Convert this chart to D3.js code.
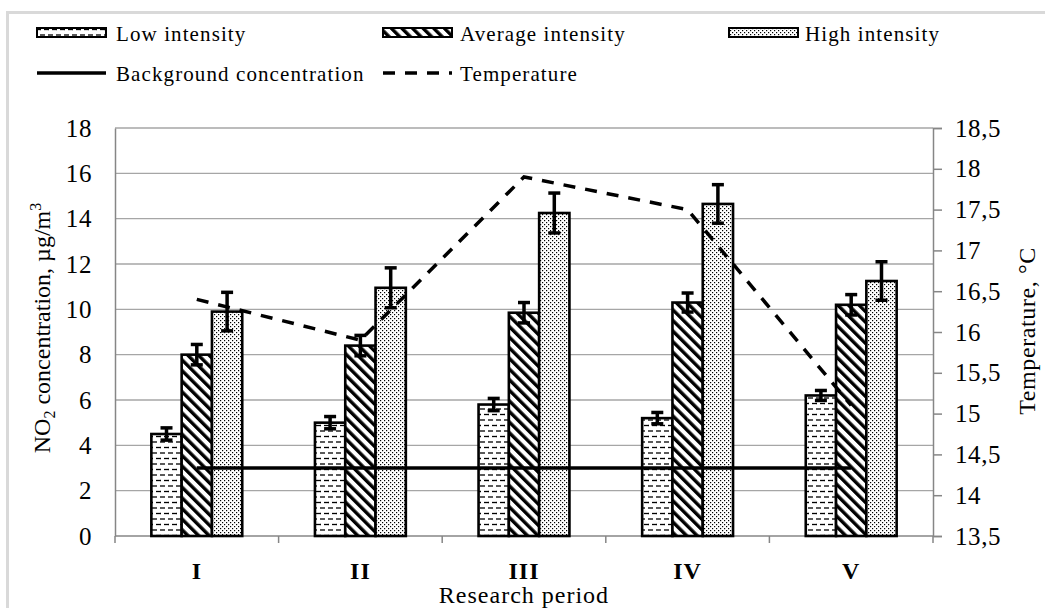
<!DOCTYPE html>
<html>
<head>
<meta charset="utf-8">
<script src="https://cdn.jsdelivr.net/npm/d3@7"></script>
<style>
  html, body { margin: 0; padding: 0; background: #fff; }
  svg { display: block; font-family: "Liberation Serif", "DejaVu Serif", serif; }
</style>
</head>
<body>
<svg id="chart" width="1045" height="608"></svg>
<script>
// ---- data ----
const periods = ["I", "II", "III", "IV", "V"];
const seriesNames = ["Low intensity", "Average intensity", "High intensity"];
const lowValues  = [4.5, 5.0, 5.8, 5.2, 6.2];
const avgValues  = [8.0, 8.4, 9.85, 10.3, 10.2];
const highValues = [9.9, 10.95, 14.25, 14.65, 11.25];
const lowErr  = [0.27, 0.27, 0.27, 0.25, 0.22];
const avgErr  = [0.45, 0.45, 0.45, 0.42, 0.45];
const highErr = [0.85, 0.88, 0.88, 0.85, 0.85];
const backgroundConc = [3, 3, 3, 3, 3];
const temperature = [16.4, 15.9, 17.9, 17.5, 15.1];
const leftTicks  = [0, 2, 4, 6, 8, 10, 12, 14, 16, 18];
const rightTicks = [13.5, 14, 14.5, 15, 15.5, 16, 16.5, 17, 17.5, 18, 18.5];

// ---- layout ----
const svg = d3.select("#chart");
const L = 115, R = 933, T = 128, B = 536;

// outer chart border
svg.append("rect").attr("x", 7.5).attr("y", 12.5).attr("width", 1100).attr("height", 700)
  .attr("fill", "none").attr("stroke", "#d9d9d9").attr("stroke-width", 3);

// patterns
const defs = svg.append("defs");
const pLow = defs.append("pattern").attr("id", "pLow").attr("patternUnits", "userSpaceOnUse")
  .attr("width", 8).attr("height", 11);
pLow.append("rect").attr("width", 8).attr("height", 11).attr("fill", "#fff");
pLow.append("line").attr("x1", 0).attr("x2", 5).attr("y1", 2).attr("y2", 2).attr("stroke", "#000").attr("stroke-width", 1.3);
pLow.append("line").attr("x1", 4).attr("x2", 9).attr("y1", 7.5).attr("y2", 7.5).attr("stroke", "#000").attr("stroke-width", 1.3);
pLow.append("line").attr("x1", -4).attr("x2", 1).attr("y1", 7.5).attr("y2", 7.5).attr("stroke", "#000").attr("stroke-width", 1.3);

const pAvg = defs.append("pattern").attr("id", "pAvg").attr("patternUnits", "userSpaceOnUse")
  .attr("width", 7.5).attr("height", 7.5).attr("patternTransform", "rotate(-45)");
pAvg.append("rect").attr("width", 7.5).attr("height", 7.5).attr("fill", "#fff");
pAvg.append("rect").attr("x", 0).attr("y", 0).attr("width", 3.4).attr("height", 7.5).attr("fill", "#000");

const pHigh = defs.append("pattern").attr("id", "pHigh").attr("patternUnits", "userSpaceOnUse")
  .attr("width", 4).attr("height", 4);
pHigh.append("rect").attr("width", 4).attr("height", 4).attr("fill", "#fff");
pHigh.append("rect").attr("x", 0).attr("y", 0).attr("width", 1.2).attr("height", 1.2).attr("fill", "#000");
pHigh.append("rect").attr("x", 2).attr("y", 2).attr("width", 1.2).attr("height", 1.2).attr("fill", "#000");

const fills = ["url(#pLow)", "url(#pAvg)", "url(#pHigh)"];

// scales
const x0 = d3.scaleBand().domain(periods).range([L, R]).padding(0);
const x1 = d3.scaleBand().domain(seriesNames).range([0, x0.bandwidth()]).paddingInner(0).paddingOuter(1.2);
const y = d3.scaleLinear().domain([0, 18]).range([B, T]);
const yT = d3.scaleLinear().domain([13.5, 18.5]).range([B, T]);
const fmtComma = d => String(d).replace(".", ",");

// gridlines
svg.append("g").selectAll("line").data(leftTicks.filter(d => d > 0)).join("line")
  .attr("x1", L).attr("x2", R).attr("y1", d => y(d)).attr("y2", d => y(d))
  .attr("stroke", "#a6a6a6").attr("stroke-width", 1.3);

// left axis
const gL = svg.append("g").attr("transform", `translate(${L},0)`)
  .call(d3.axisLeft(y).tickValues(leftTicks).tickSize(0).tickPadding(23).tickFormat(d3.format("d")));
gL.select(".domain").attr("stroke", "#868686").attr("stroke-width", 1.5);
gL.selectAll("text").attr("font-size", 25).attr("fill", "#000").style("letter-spacing", "0.6px")
  .attr("font-family", "Liberation Serif");

// right axis
const gR = svg.append("g").attr("transform", `translate(${R},0)`)
  .call(d3.axisRight(yT).tickValues(rightTicks).tickSize(9).tickPadding(13).tickFormat(fmtComma));
gR.select(".domain").attr("stroke", "#868686").attr("stroke-width", 1.5);
gR.selectAll("line").attr("stroke", "#868686").attr("stroke-width", 1.5);
gR.selectAll("text").attr("font-size", 25).attr("fill", "#000").style("letter-spacing", "0.6px")
  .attr("font-family", "Liberation Serif");

// bottom axis
svg.append("line").attr("x1", L).attr("x2", R).attr("y1", B).attr("y2", B)
  .attr("stroke", "#868686").attr("stroke-width", 1.5);
const bounds = periods.map(p => x0(p)).concat([x0.range()[1]]);
svg.append("g").selectAll("line").data(bounds).join("line")
  .attr("x1", d => d).attr("x2", d => d).attr("y1", B).attr("y2", B + 7)
  .attr("stroke", "#868686").attr("stroke-width", 1.5);
svg.append("g").selectAll("text").data(periods).join("text")
  .attr("x", d => x0(d) + x0.bandwidth() / 2).attr("y", 579)
  .attr("text-anchor", "middle").attr("font-size", 24).attr("font-weight", "bold")
  .style("letter-spacing", "1px").text(d => d);

// bars
const seriesValues = [lowValues, avgValues, highValues];
const seriesErr = [lowErr, avgErr, highErr];
const gBars = svg.append("g");
seriesNames.forEach((s, si) => {
  gBars.append("g").selectAll("rect").data(periods).join("rect")
    .attr("x", d => x0(d) + x1(s))
    .attr("y", (d, i) => y(seriesValues[si][i]))
    .attr("width", x1.bandwidth())
    .attr("height", (d, i) => y(0) - y(seriesValues[si][i]))
    .attr("fill", fills[si]).attr("stroke", "#000").attr("stroke-width", 2.6);
});

// background concentration line
const cx = d => x0(d) + x0.bandwidth() / 2;
svg.append("path")
  .attr("d", d3.line().x((d, i) => cx(periods[i])).y(d => y(d))(backgroundConc))
  .attr("fill", "none").attr("stroke", "#000").attr("stroke-width", 3.5);

// temperature dashed line
svg.append("path")
  .attr("d", d3.line().x((d, i) => cx(periods[i])).y(d => yT(d))(temperature))
  .attr("fill", "none").attr("stroke", "#000").attr("stroke-width", 3.5)
  .attr("stroke-dasharray", "12,10");

// error bars
seriesNames.forEach((s, si) => {
  const g = svg.append("g");
  periods.forEach((p, i) => {
    const xc = x0(p) + x1(s) + x1.bandwidth() / 2;
    const v = seriesValues[si][i], e = seriesErr[si][i];
    const cap = 6;
    g.append("line").attr("x1", xc).attr("x2", xc).attr("y1", y(v + e)).attr("y2", y(v - e))
      .attr("stroke", "#000").attr("stroke-width", 3.5);
    [v + e, v - e].forEach(w => {
      g.append("line").attr("x1", xc - cap).attr("x2", xc + cap).attr("y1", y(w)).attr("y2", y(w))
        .attr("stroke", "#000").attr("stroke-width", 3.5);
    });
  });
});

// axis titles
const tl = svg.append("text").attr("transform", "translate(50,328) rotate(-90)")
  .attr("text-anchor", "middle").attr("font-size", 24);
tl.append("tspan").text("NO");
tl.append("tspan").attr("font-size", 16).attr("dy", 5).text("2");
tl.append("tspan").attr("dy", -5).text(" concentration, µg/m");
tl.append("tspan").attr("font-size", 16).attr("dy", -9).text("3");

svg.append("text").attr("transform", "translate(1035,331) rotate(-90)")
  .attr("text-anchor", "middle").attr("font-size", 24).style("letter-spacing", "0.6px")
  .text("Temperature, °C");

svg.append("text").attr("x", (L + R) / 2).attr("y", 603).attr("text-anchor", "middle")
  .attr("font-size", 24).style("letter-spacing", "1px").text("Research period");

// legend
const legendFont = 21;
const lg = svg.append("g");
const legendRects = [
  {x: 37, label: seriesNames[0], fill: fills[0], tx: 116},
  {x: 383, label: seriesNames[1], fill: fills[1], tx: 460},
  {x: 729, label: seriesNames[2], fill: fills[2], tx: 805}
];
legendRects.forEach(d => {
  lg.append("rect").attr("x", d.x).attr("y", 28).attr("width", 69).attr("height", 9)
    .attr("fill", d.fill).attr("stroke", "#000").attr("stroke-width", 2);
  lg.append("text").attr("x", d.tx).attr("y", 41).attr("font-size", legendFont)
    .style("letter-spacing", "1.1px").text(d.label);
});
lg.append("line").attr("x1", 37).attr("x2", 106).attr("y1", 73).attr("y2", 73)
  .attr("stroke", "#000").attr("stroke-width", 3.5);
lg.append("text").attr("x", 116).attr("y", 81).attr("font-size", legendFont)
  .style("letter-spacing", "1.1px").text("Background concentration");
lg.append("line").attr("x1", 383).attr("x2", 452).attr("y1", 73).attr("y2", 73)
  .attr("stroke", "#000").attr("stroke-width", 3.5).attr("stroke-dasharray", "12,10");
lg.append("text").attr("x", 460).attr("y", 81).attr("font-size", legendFont)
  .style("letter-spacing", "1.1px").text("Temperature");
</script>
</body>
</html>
